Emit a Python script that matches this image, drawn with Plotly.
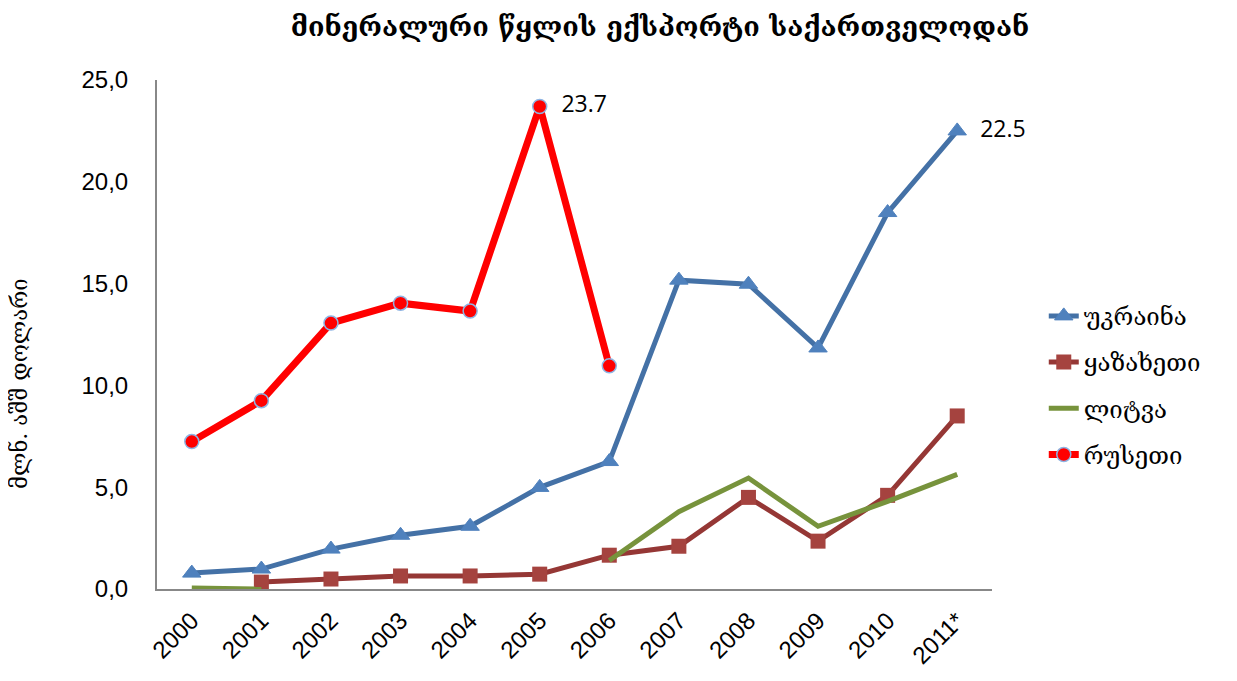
import plotly.graph_objects as go

years = ["2000", "2001", "2002", "2003", "2004", "2005", "2006", "2007", "2008", "2009", "2010", "2011*"]
ukraine = [0.78, 0.98, 1.96, 2.64, 3.08, 4.99, 6.26, 15.17, 14.97, 11.84, 18.49, 22.5]
kazakhstan = [None, 0.34, 0.49, 0.64, 0.64, 0.73, 1.66, 2.1, 4.5, 2.35, 4.6, 8.5]
lithuania = [0.05, 0.0, None, None, None, None, 1.4, 3.8, 5.45, 3.08, 4.3, 5.63]
russia = [7.24, 9.25, 13.06, 14.04, 13.65, 23.7, 10.96, None, None, None, None, None]

names = ["უკრაინა", "ყაზახეთი", "ლიტვა", "რუსეთი"]
title_text = "მინერალური წყლის ექსპორტი საქართველოდან"
ytitle = "მლნ. აშშ დოლარი"

def one_label(vals, idx):
    return [("  " + f"{v:.1f}") if (i == idx and v is not None) else "" for i, v in enumerate(vals)]

label_font = dict(family="Open Sans", size=23, color="black")

fig = go.Figure()
fig.add_trace(go.Scatter(
    x=years, y=ukraine, name=names[0], legendgroup="g1", mode="lines+markers+text",
    line=dict(color="#4471A6", width=5),
    marker=dict(symbol="triangle-up", size=16, color="#4F81BD", line=dict(color="#4F81BD", width=1)),
    text=one_label(ukraine, 11), textposition="middle right", textfont=label_font,
    cliponaxis=False,
))
fig.add_trace(go.Scatter(
    x=years, y=kazakhstan, name=names[1], legendgroup="g2", mode="lines+markers",
    line=dict(color="#953735", width=5),
    marker=dict(symbol="square", size=15, color="#A5433F"),
    cliponaxis=False,
))
fig.add_trace(go.Scatter(
    x=years, y=lithuania, name=names[2], legendgroup="g3", mode="lines",
    line=dict(color="#77933C", width=5),
    cliponaxis=False,
))
fig.add_trace(go.Scatter(
    x=years, y=russia, name=names[3], legendgroup="g4", mode="lines+markers+text",
    line=dict(color="#FF0000", width=7),
    marker=dict(symbol="circle", size=14, color="#FF0000", line=dict(color="#8EB4E3", width=1.5)),
    text=one_label(russia, 5), textposition="middle right", textfont=label_font,
    cliponaxis=False,
))

tick_font = dict(family="Liberation Sans", size=24, color="black")

fig.update_layout(
    width=1229, height=673,
    paper_bgcolor="white", plot_bgcolor="white",
    margin=dict(l=149, r=245, t=72, b=90),
    separators=",.",
    title=dict(text="<b>" + title_text + "</b>", x=0.5305, xanchor="center", y=0.972, yanchor="middle",
               font=dict(family="DejaVu Serif", size=27, color="black")),
    showlegend=True,
    legend=dict(x=1.062, y=0.58, xanchor="left", yanchor="top",
                font=dict(family="DejaVu Serif", size=24, color="black"),
                tracegroupgap=12, bgcolor="rgba(0,0,0,0)"),
    xaxis=dict(type="category", range=[-0.5, 11.5], showgrid=False, zeroline=False,
               showline=True, linecolor="#888888", linewidth=2,
               ticks="", tickangle=-45, ticklabelstandoff=6,
               tickfont=tick_font),
    yaxis=dict(range=[0, 25], dtick=5, tickformat=".1f", showgrid=False, zeroline=False,
               showline=True, linecolor="#888888", linewidth=2, ticks="",
               ticklabelstandoff=22,
               tickfont=tick_font),
    annotations=[dict(text=ytitle, textangle=-90, xref="paper", yref="paper",
                      x=-0.164, y=0.403, xanchor="center", yanchor="middle", showarrow=False,
                      font=dict(family="DejaVu Serif", size=22, color="black"))],
)

fig.write_html("out.html")
